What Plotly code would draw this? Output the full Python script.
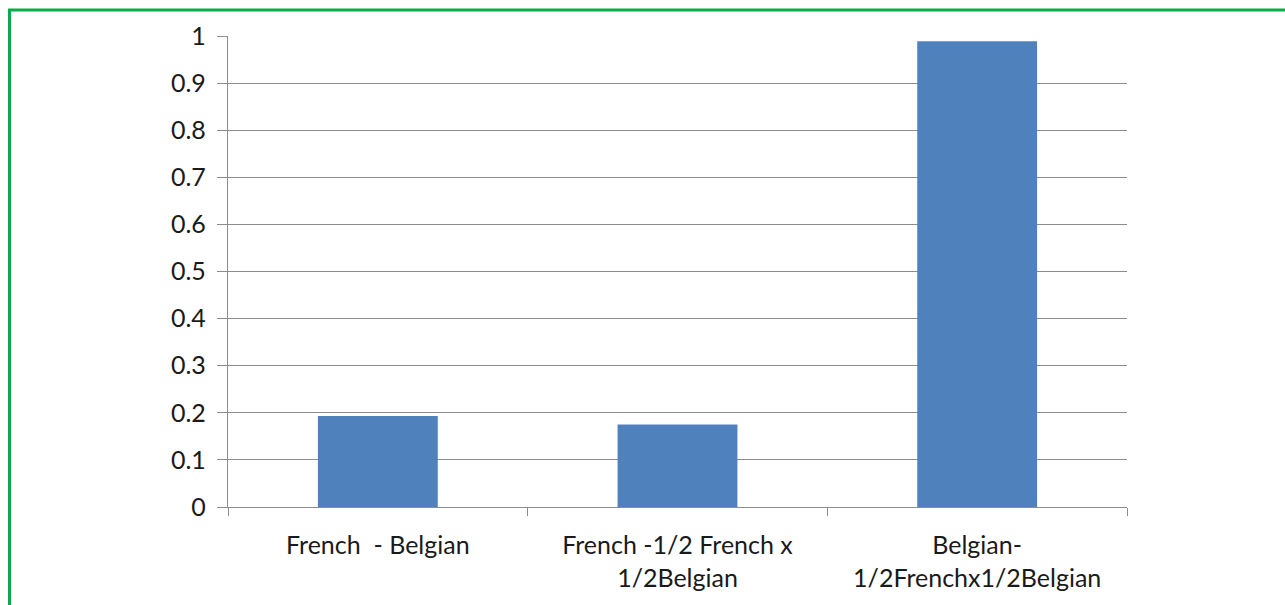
import plotly.graph_objects as go

categories = ["French\u00a0 - Belgian", "French -1/2 French x<br>1/2Belgian", "Belgian-<br>1/2Frenchx1/2Belgian"]
values = [0.193, 0.175, 0.989]
y_ticks = [0, 0.1, 0.2, 0.3, 0.4, 0.5, 0.6, 0.7, 0.8, 0.9, 1]
y_tick_labels = ["0", "0.1", "0.2", "0.3", "0.4", "0.5", "0.6", "0.7", "0.8", "0.9", "1"]

W, H = 1285, 605
L, R, T, B = 228, 158, 36, 98
pw = W - L - R
ph = H - T - B

font = dict(family="Lato, Liberation Sans, sans-serif", size=25, color="#1a1a1a")

fig = go.Figure(go.Bar(
    x=categories, y=values, width=0.4,
    marker=dict(color="#4F81BD", line=dict(color="#4F81BD", width=0)),
))

fig.update_layout(
    width=W, height=H,
    margin=dict(l=L, r=R, t=T, b=B, pad=0),
    paper_bgcolor="white", plot_bgcolor="white",
    showlegend=False,
    font=font,
    bargap=0.6,
)
fig.update_yaxes(
    range=[0, 1], tickvals=y_ticks, ticktext=y_tick_labels,
    showgrid=True, gridcolor="#8c8c8c", gridwidth=1.3,
    ticks="outside", ticklen=10, tickcolor="#8c8c8c", tickwidth=1.3,
    showline=True, linecolor="#8c8c8c", linewidth=1.3,
    zeroline=False, tickfont=font, ticklabelstandoff=6,
)
fig.update_xaxes(
    showgrid=False, tickson="boundaries",
    ticks="outside", ticklen=8, tickcolor="#8c8c8c", tickwidth=1.3,
    showline=True, linecolor="#8c8c8c", linewidth=1.3,
    tickfont=font, ticklabelstandoff=16,
)

# green frame (top and left edges visible, the rest cropped)
def px_x(p):
    return (p - L) / pw

def px_y(p):
    return 1 - (p - T) / ph

green = "#0DAA4B"
fig.add_shape(type="line", xref="paper", yref="paper",
              x0=px_x(8), x1=px_x(1300), y0=px_y(10), y1=px_y(10),
              line=dict(color=green, width=3))
fig.add_shape(type="line", xref="paper", yref="paper",
              x0=px_x(9.5), x1=px_x(9.5), y0=px_y(9), y1=px_y(620),
              line=dict(color=green, width=3))

fig.write_html("out.html")
